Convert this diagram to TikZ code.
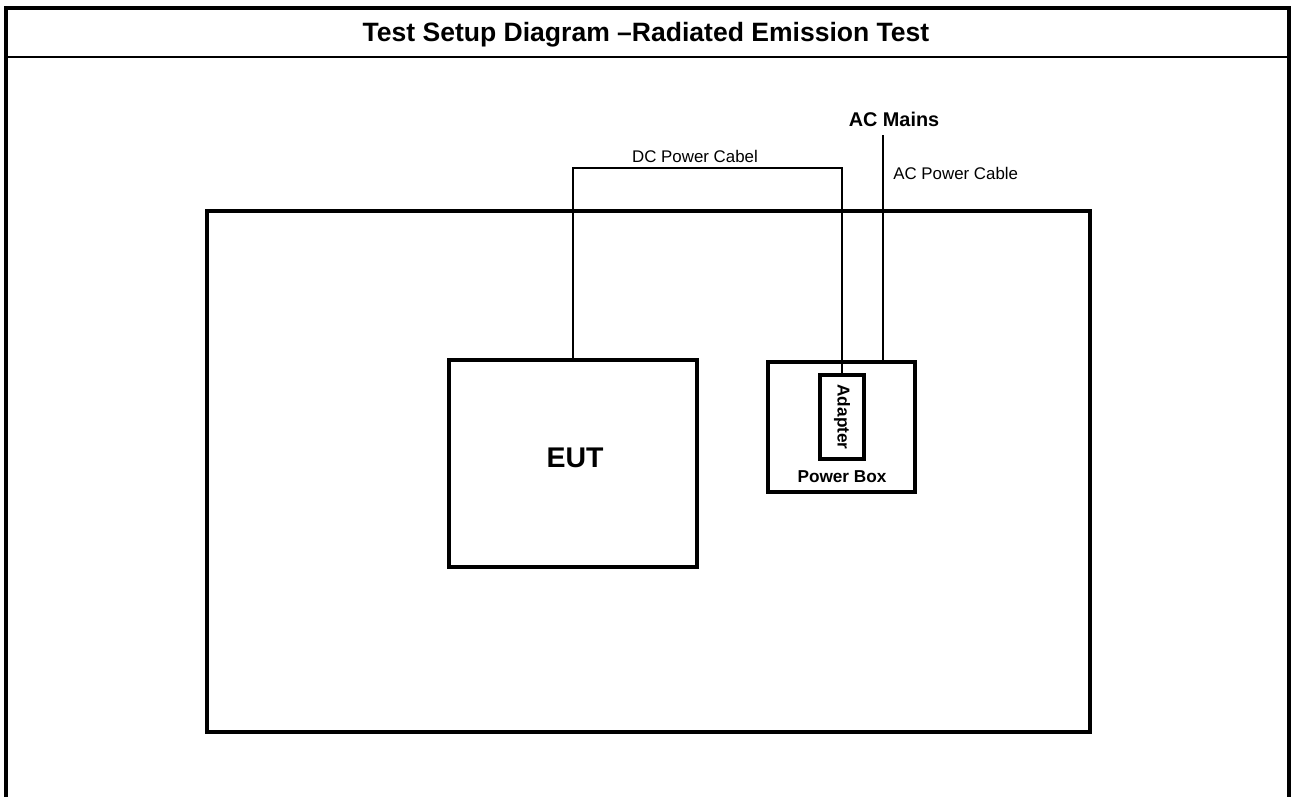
\documentclass[tikz,border=0pt]{standalone}
\usepackage{fontspec}
\setmainfont{Liberation Sans}
\usetikzlibrary{fit}
\tikzset{
  box/.style={draw, line width=2.3pt, inner sep=0pt},
  cable/.style={draw, line width=1.2pt},
}
\begin{document}
\begin{tikzpicture}[x=0.02cm, y=-0.02cm]
                \useasboundingbox (0,0) rectangle (1292,796);
                % frame and title
                \draw [line width=2.6pt] (6,800) -- (6,8) -- (1289,8) -- (1289,800);
                \draw [line width=1.1pt] (6,57) -- (1289,57);
                \node [anchor=base] (title) at (646,41) {\fontsize{15.1}{17}\selectfont\bfseries Test Setup Diagram –Radiated Emission Test};
                % table and equipment
                \node [box, line width=2.5pt, fit={(207,211) (1090,732)}] (table) {};
                \node [box, line width=2.6pt, fit={(449,360) (697,567)}] (eut) {};
                \node [anchor=base] (euttext) at (575,467) {\fontsize{16.2}{18}\selectfont\bfseries EUT};
                \node [box, fit={(768,362) (915,492)}] (pbox) {};
                \node [box, fit={(820,375) (864,459)}] (adapter) {};
                \node [rotate=-90] (adaptertext) at (842,417) {\fontsize{9.8}{11}\selectfont\bfseries Adapter};
                \node [anchor=base] (pboxtext) at (842,482) {\fontsize{9.8}{11}\selectfont\bfseries Power Box};
                % cables
                \node [anchor=base] (mains) at (894,126) {\fontsize{11.3}{13}\selectfont\bfseries AC Mains};
                \coordinate (acend) at (883,135);
                \coordinate (dcbend) at (842,168);
                \draw [cable] (eut.north) |- (dcbend) -- (adapter.north);
                \draw [cable] (acend) -- (acend |- pbox.north);
                \node [anchor=base] (dclabel) at (695,162) {\fontsize{9.6}{11}\selectfont DC Power Cabel};
                \node [anchor=base west, inner sep=0pt] (aclabel) at (893,179) {\fontsize{9.6}{11}\selectfont AC Power Cable};
            \end{tikzpicture}
\end{document}
